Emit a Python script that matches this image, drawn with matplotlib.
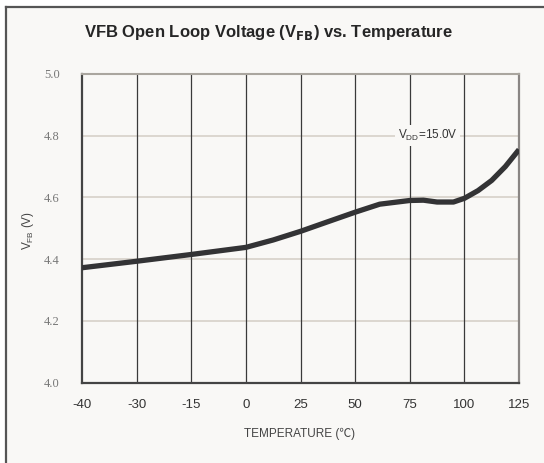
import numpy as np
import matplotlib
matplotlib.use("Agg")
import matplotlib.pyplot as plt
from matplotlib.lines import Line2D

# categories on the x axis (equally spaced, not to scale)
temp_labels = ['-40', '-30', '-15', '0', '25', '50', '75', '100', '125']

# curve: position in category units, VFB in volts
curve_pos = [0, 1, 2, 3, 3.5, 4, 4.45, 5, 5.45, 6, 6.25, 6.5, 6.8, 7, 7.25, 7.5, 7.75, 8]
curve_vfb = [4.372, 4.393, 4.415, 4.438, 4.462, 4.490, 4.518, 4.552, 4.578, 4.590,
             4.591, 4.585, 4.585, 4.597, 4.622, 4.655, 4.700, 4.755]

y_ticks = [4.0, 4.2, 4.4, 4.6, 4.8, 5.0]
bg = '#f9f8f6'

fig = plt.figure(figsize=(5.44, 4.63), dpi=100, facecolor='white')
# panel background with border on left / top
fig.patches.append(plt.Rectangle((6 / 544, 0), 1, 1 - 7 / 463, transform=fig.transFigure,
                                 facecolor=bg, edgecolor='none', zorder=-5))
fig.lines.append(Line2D([6 / 544, 6 / 544], [0, 1 - 6.5 / 463], transform=fig.transFigure,
                        color='#555555', lw=1.6, zorder=-4))
fig.lines.append(Line2D([6 / 544, 1], [1 - 6.5 / 463, 1 - 6.5 / 463], transform=fig.transFigure,
                        color='#555555', lw=1.6, zorder=-4))

ax = fig.add_axes([82 / 544, 1 - 382.5 / 463, 437 / 544, (382.5 - 74) / 463])
ax.set_zorder(2)
ax.set_facecolor(bg)

x = np.arange(len(temp_labels))
ax.set_xlim(0, len(temp_labels) - 1)
ax.set_ylim(4.0, 5.0)

for yv in y_ticks[1:-1]:
    ax.axhline(yv, color='#d9d4cd', lw=1.3, zorder=1)
for xv in x[1:-1]:
    ax.axvline(xv, color='#3a3a3a', lw=0.9, zorder=1)

ax.plot(curve_pos, curve_vfb, color='#333335', lw=3.8, solid_capstyle='butt',
        solid_joinstyle='round', zorder=3)

ax.set_xticks(x)
ax.set_xticklabels(temp_labels, family='Liberation Sans', fontsize=9.5, color='#333333')
ax.set_yticks(y_ticks)
ax.set_yticklabels(['%.1f' % v for v in y_ticks], family='Liberation Serif',
                   fontsize=9, color='#777777')
ax.tick_params(length=0, pad=12)
ax.tick_params(axis='y', pad=16)

for side in ['left', 'bottom']:
    ax.spines[side].set_color('#444444')
    ax.spines[side].set_linewidth(1.6)
ax.spines['top'].set_color('#aaa69f')
ax.spines['top'].set_linewidth(1.5)
ax.spines['right'].set_color('#8a8684')
ax.spines['right'].set_linewidth(1.6)

ax.text(5.78, 4.8, r'V$_{\mathregular{DD}}$=15.0V', family='Liberation Sans', fontsize=8.5,
        color='#333333', va='center', ha='left', zorder=4,
        bbox=dict(facecolor=bg, edgecolor='none', pad=2))

fig.text(268 / 544, 1 - 32 / 463, r'VFB Open Loop Voltage (V$_{\mathbf{FB}}$) vs. Temperature',
         family='Liberation Sans', fontweight='bold', fontsize=12, color='#262626',
         ha='center', va='center')
fig.text(300 / 544, 1 - 434 / 463, 'TEMPERATURE (℃)', family=['Liberation Sans', 'Noto Sans CJK SC'],
         fontsize=8.5, color='#444444', ha='center', va='center')
fig.text(28 / 544, 1 - 230 / 463, r'V$_{\mathregular{FB}}$ (V)', family='Liberation Sans',
         fontsize=8.5, color='#444444', ha='center', va='center', rotation=90)

fig.savefig('out.png', dpi=100, facecolor='white')
